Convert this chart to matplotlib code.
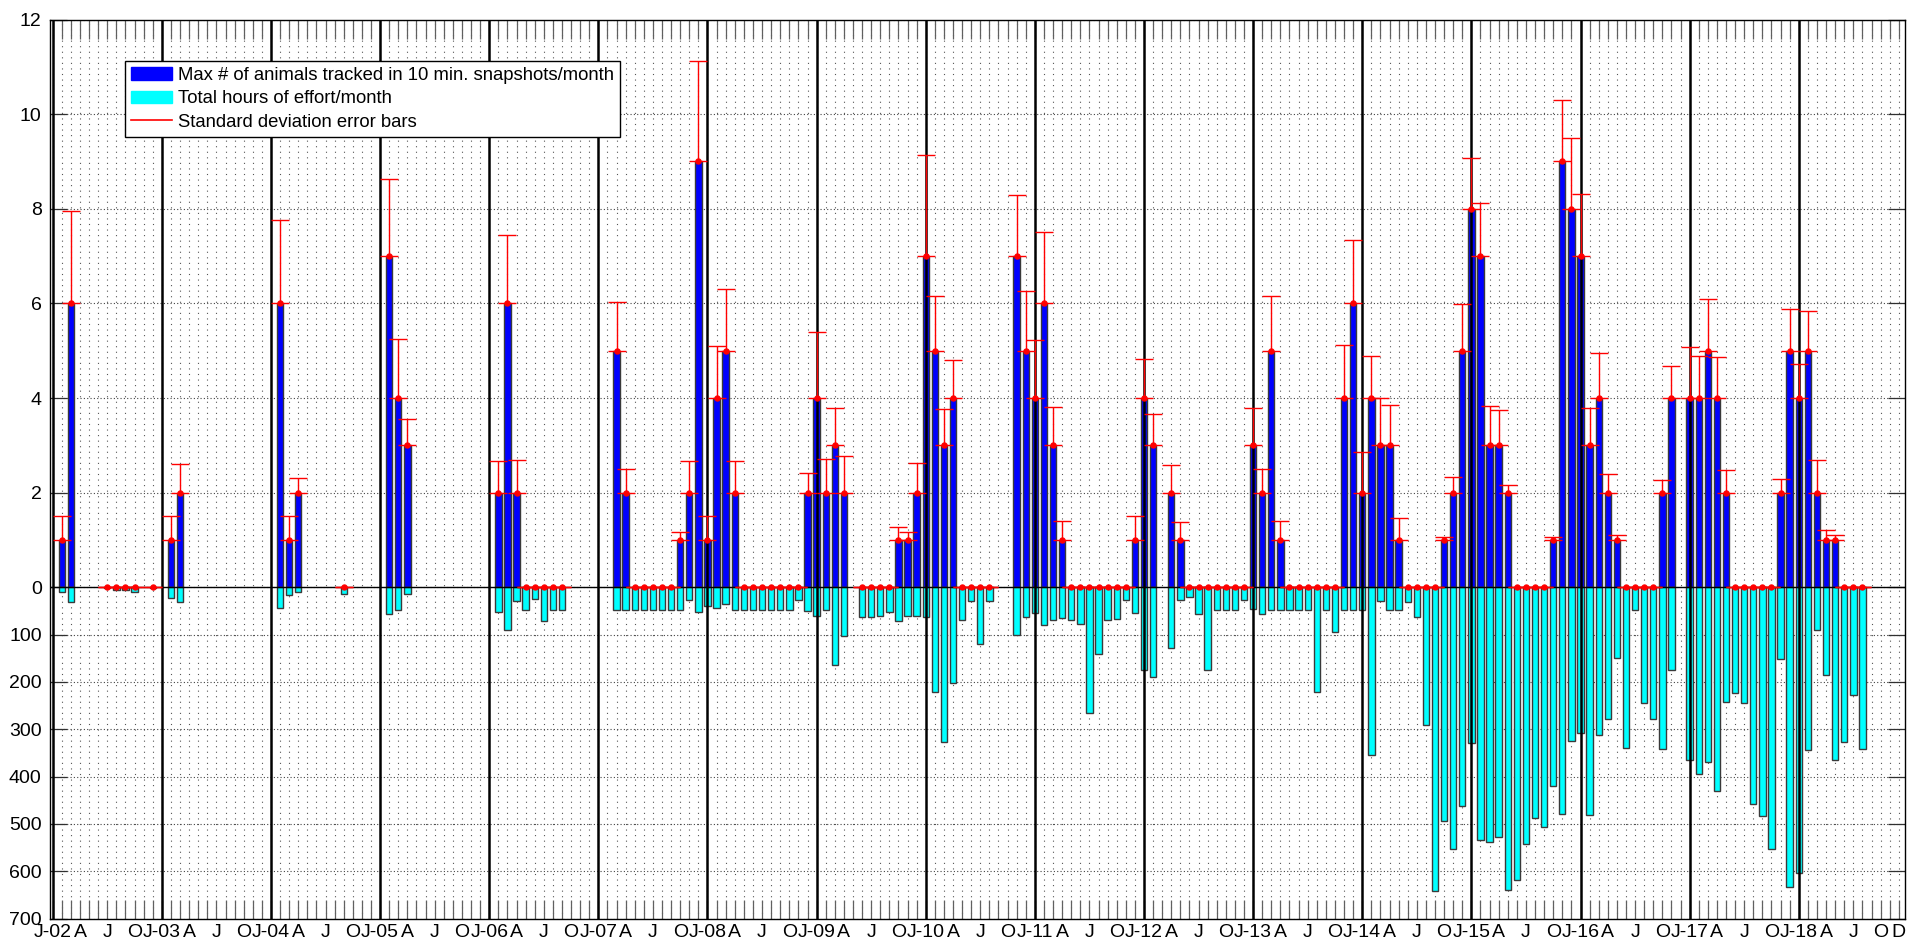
import numpy as np
import matplotlib
matplotlib.use("Agg")
import matplotlib.pyplot as plt
from matplotlib.patches import Patch
from matplotlib.lines import Line2D

plt.rcParams['font.family'] = ['Liberation Sans', 'DejaVu Sans']

N = None
years = list(range(2002, 2019))

# max # of animals per month (Jan..Dec, one row per year), None = no survey
max_animals = [
    1, 6, N, N, N, 0, 0, 0, 0, N, 0, N,      # 2002
    1, 2, N, N, N, N, N, N, N, N, N, N,      # 2003
    6, 1, 2, N, N, N, N, 0, N, N, N, N,      # 2004
    7, 4, 3, N, N, N, N, N, N, N, N, N,      # 2005
    2, 6, 2, 0, 0, 0, 0, 0, N, N, N, N,      # 2006
    N, 5, 2, 0, 0, 0, 0, 0, 1, 2, 9, 1,      # 2007
    4, 5, 2, 0, 0, 0, 0, 0, 0, 0, 2, 4,      # 2008
    2, 3, 2, N, 0, 0, 0, 0, 1, 1, 2, 7,      # 2009
    5, 3, 4, 0, 0, 0, 0, N, N, 7, 5, 4,      # 2010
    6, 3, 1, 0, 0, 0, 0, 0, 0, 0, 1, 4,      # 2011
    3, N, 2, 1, 0, 0, 0, 0, 0, 0, 0, 3,      # 2012
    2, 5, 1, 0, 0, 0, 0, 0, 0, 4, 6, 2,      # 2013
    4, 3, 3, 1, 0, 0, 0, 0, 1, 2, 5, 8,      # 2014
    7, 3, 3, 2, 0, 0, 0, 0, 1, 9, 8, 7,      # 2015
    3, 4, 2, 1, 0, 0, 0, 0, 2, 4, N, 4,      # 2016
    4, 5, 4, 2, 0, 0, 0, 0, 0, 2, 5, 4,      # 2017
    5, 2, 1, 1, 0, 0, 0, N, N, N, N, N,      # 2018
]

# standard deviation (upper error bar only)
sd_animals = [
    0.50, 1.95, N, N, N, 0, 0, 0, 0, N, 0, N,
    0.50, 0.61, N, N, N, N, N, N, N, N, N, N,
    1.76, 0.50, 0.31, N, N, N, N, 0, N, N, N, N,
    1.63, 1.25, 0.55, N, N, N, N, N, N, N, N, N,
    0.67, 1.45, 0.70, 0, 0, 0, 0, 0, N, N, N, N,
    N, 1.02, 0.50, 0, 0, 0, 0, 0, 0.16, 0.67, 2.12, 0.50,
    1.10, 1.31, 0.67, 0, 0, 0, 0, 0, 0, 0, 0.42, 1.39,
    0.72, 0.79, 0.77, N, 0, 0, 0, 0, 0.28, 0.16, 0.62, 2.13,
    1.16, 0.76, 0.81, 0, 0, 0, 0, N, N, 1.29, 1.26, 1.23,
    1.50, 0.81, 0.40, 0, 0, 0, 0, 0, 0, 0, 0.50, 0.83,
    0.66, N, 0.58, 0.38, 0, 0, 0, 0, 0, 0, 0, 0.79,
    0.50, 1.16, 0.40, 0, 0, 0, 0, 0, 0, 1.13, 1.35, 0.86,
    0.88, 1.01, 0.86, 0.47, 0, 0, 0, 0, 0.06, 0.34, 0.99, 1.07,
    1.12, 0.83, 0.75, 0.16, 0, 0, 0, 0, 0.06, 1.29, 1.49, 1.31,
    0.79, 0.96, 0.39, 0.11, 0, 0, 0, 0, 0.26, 0.68, N, 1.07,
    0.89, 1.10, 0.86, 0.47, 0, 0, 0, 0, 0, 0.28, 0.89, 0.72,
    0.84, 0.70, 0.22, 0.11, 0, 0, 0, N, N, N, N, N,
]

# total hours of effort per month
effort_hours = [
    9, 32, N, N, N, 2, 5, 5, 11, N, 0.5, N,
    23, 32, N, N, N, N, N, N, N, N, N, N,
    44, 17, 9, N, N, N, N, 15, N, N, N, N,
    57, 47, 15, N, N, N, N, N, N, N, N, N,
    53, 91, 30, 47, 25, 71, 47, 47, N, N, N, N,
    N, 47, 47, 47, 47, 47, 47, 47, 47, 26, 53, 40,
    43, 35, 47, 47, 47, 47, 47, 47, 47, 26, 50, 60,
    47, 165, 103, N, 62, 62, 60, 52, 71, 60, 60, 62,
    221, 327, 202, 70, 29, 119, 29, N, N, 101, 62, 55,
    80, 70, 65, 70, 77, 266, 142, 70, 67, 26, 55, 175,
    190, N, 128, 26, 20, 57, 174, 47, 47, 47, 26, 45,
    57, 47, 47, 47, 47, 47, 221, 47, 94, 47, 47, 47,
    354, 29, 47, 47, 31, 62, 291, 641, 493, 554, 463, 330,
    534, 539, 528, 640, 619, 542, 487, 507, 421, 480, 324, 307,
    482, 312, 278, 149, 339, 47, 245, 278, 342, 175, N, 365,
    394, 369, 430, 242, 223, 244, 459, 484, 553, 152, 633, 604,
    343, 91, 186, 366, 326, 227, 341, N, N, N, N, N,
]

ytick_vals = [12, 10, 8, 6, 4, 2, 0, -1, -2, -3, -4, -5, -6, -7]
ytick_labels = ['12', '10', '8', '6', '4', '2', '0',
                '100', '200', '300', '400', '500', '600', '700']

def to_arr(lst):
    return np.array([np.nan if v is None else v for v in lst], dtype=float)

animals = to_arr(max_animals)
sd = to_arr(sd_animals)
hours = to_arr(effort_hours)
pos = np.arange(1, len(animals) + 1)  # month k of year y sits at 12*y + k

fig = plt.figure(figsize=(19.08, 9.42), dpi=100)
ax = fig.add_axes([50 / 1908, (942 - 918.5) / 942, (1904.7 - 50) / 1908, (918.5 - 19.5) / 942])

ma = ~np.isnan(animals)
mh = ~np.isnan(hours)
ax.bar(pos[ma], animals[ma], width=0.7, color='#0000ff', edgecolor='#3a3a3a', lw=1, zorder=2)
ax.bar(pos[mh], -hours[mh] / 100.0, width=0.7, color='#00ffff', edgecolor='#3a3a3a', lw=1, zorder=2)

# black year separators and zero line
for i in range(len(years)):
    ax.axvline(12 * i, color='k', lw=1.8, zorder=3)
ax.axhline(0, color='k', lw=1, zorder=3)

ax.errorbar(pos[ma], animals[ma], yerr=[np.zeros(ma.sum()), sd[ma]], fmt='o', color='red',
            ms=3.6, elinewidth=1, capsize=6.5, capthick=1, zorder=4)

# x ticks: every month, labels every quarter
xt = np.arange(0, 204)
xl = []
for p in xt:
    yi, k = divmod(p, 12)
    if k == 0:
        xl.append('J-%02d' % ((years[yi]) % 100))
    elif k == 3:
        xl.append('A')
    elif k == 6:
        xl.append('J')
    elif k == 9:
        xl.append('O')
    else:
        xl.append('')
xl[-1] = 'D'
ax.set_xticks(xt)
ax.set_xticklabels(xl)
ax.set_yticks(ytick_vals)
ax.set_yticklabels(ytick_labels)
ax.set_xlim(-0.3, 203.65)
ax.set_ylim(-7, 12)

ax.tick_params(axis='x', direction='in', length=14, width=0.9, color='#606060',
               top=True, labelsize=14, pad=4)
ax.tick_params(axis='y', direction='in', length=12, width=0.9, color='#303030',
               right=True, labelsize=14, pad=6)

ax.grid(axis='x', linestyle=(0, (1, 4)), color='#555555', lw=0.8, zorder=0)
ax.grid(axis='y', linestyle=(0, (1, 2)), color='#444444', lw=0.8, zorder=0)
ax.set_axisbelow(True)
for s in ax.spines.values():
    s.set_linewidth(1)
    s.set_color('k')

handles = [Patch(facecolor='#0000ff', edgecolor='#0000ff'),
           Patch(facecolor='#00ffff', edgecolor='#00ffff'),
           Line2D([], [], color='red', lw=1.2)]
labels = ['Max # of animals tracked in 10 min. snapshots/month',
          'Total hours of effort/month',
          'Standard deviation error bars']
leg = fig.legend(handles, labels, loc='upper left', bbox_to_anchor=(125 / 1908, 1 - 60.7 / 942),
                 fontsize=13.3, frameon=True, fancybox=False, framealpha=1,
                 edgecolor='k', handlelength=2.2, handleheight=0.7, handletextpad=0.3,
                 labelspacing=0.34, borderpad=0.35, borderaxespad=0)
leg.get_frame().set_linewidth(1)

fig.savefig('out.png', dpi=100)
